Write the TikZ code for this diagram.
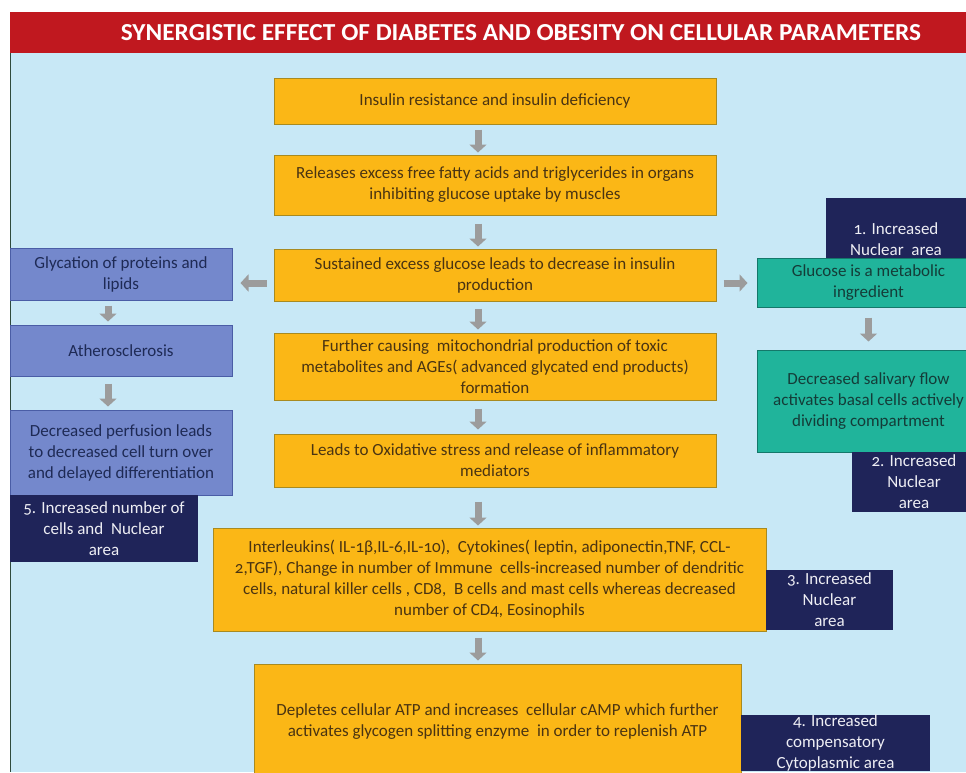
\documentclass[tikz,border=0pt]{standalone}
\usepackage{fontspec}
\setmainfont{Carlito}[Numbers=OldStyle]
\usetikzlibrary{arrows.meta,calc}
\definecolor{bgblue}{HTML}{C8E8F6}
\definecolor{titlered}{HTML}{C0181F}
\definecolor{orng}{HTML}{FBB716}
\definecolor{obord}{HTML}{A88A20}
\definecolor{otext}{HTML}{4A3412}
\definecolor{lblue}{HTML}{7488CC}
\definecolor{lbord}{HTML}{4A5DA6}
\definecolor{ltext}{HTML}{1E2A55}
\definecolor{teal1}{HTML}{20B49B}
\definecolor{tbord}{HTML}{14786A}
\definecolor{ttext}{HTML}{143C38}
\definecolor{navy}{HTML}{1F2459}
\definecolor{ntext}{HTML}{EEEEF4}
\definecolor{agrey}{HTML}{9C9C9C}
\definecolor{edgeline}{HTML}{2F4A3C}
\begin{document}
\begin{tikzpicture}[x=1pt,y=-1pt,
 box/.style={rectangle, line width=1pt, align=center, inner sep=0pt, font=\fontsize{17}{21}\selectfont},
 obox/.style={box, draw=obord, fill=orng, text=otext},
 bbox/.style={box, draw=lbord, fill=lblue, text=ltext},
 tbox/.style={box, draw=tbord, fill=teal1, text=ttext},
 nbox/.style={box, fill=navy, text=ntext},
 barrow/.style={draw=agrey, line width=7pt, -{Triangle[width=17pt,length=8pt]}}]
\useasboundingbox (0,0) rectangle (966,772);
\clip (0,0) rectangle (966,772);
\fill[white] (0,0) rectangle (966,772);
\fill[bgblue] (10,53) rectangle (966,772);
\draw[edgeline, line width=1pt] (10.5,53) -- (10.5,772);
\fill[titlered] (10,12) rectangle (966,53);
\node[text=white, inner sep=0pt] (title) at (521,32.5)
  {\resizebox{800pt}{16pt}{\bfseries SYNERGISTIC EFFECT OF DIABETES AND OBESITY ON CELLULAR PARAMETERS}};
\coordinate (axis) at (478,0);

% central column
\node[obox, minimum width=442pt, minimum height=46pt] (b1) at (495,101)
  {Insulin resistance and insulin deficiency};
\node[obox, minimum width=442pt, minimum height=60pt] (b2) at (495,185)
  {Releases excess free fatty acids and triglycerides in organs\\ inhibiting glucose uptake by muscles};
\node[obox, minimum width=442pt, minimum height=52pt] (b3) at (495,275)
  {Sustained excess glucose leads to decrease in insulin\\ production};
\node[obox, minimum width=442pt, minimum height=67pt] (b4) at (495,366.5)
  {Further causing \ mitochondrial production of toxic\\ metabolites and AGEs( advanced glycated end products)\\ formation};
\node[obox, minimum width=442pt, minimum height=53pt] (b5) at (495,460.5)
  {Leads to Oxidative stress and release of inflammatory\\ mediators};
\node[obox, minimum width=553pt, minimum height=103pt] (b6) at (489.5,579.5)
  {Interleukins( IL-1β,IL-6,IL-10), \ Cytokines( leptin, adiponectin,TNF, CCL-\\ 2,TGF), Change in number of Immune \ cells-increased number of dendritic\\ cells, natural killer cells , CD8, \ B cells and mast cells whereas decreased\\ number of CD4, Eosinophils};
\node[obox, minimum width=487pt, minimum height=116pt] (b7) at (497.5,722)
  {Depletes cellular ATP and increases \ cellular cAMP which further\\ activates glycogen splitting enzyme \ in order to replenish ATP};

% left column
\node[bbox, minimum width=222pt, minimum height=52pt] (G) at (121,274)
  {Glycation of proteins and\\ lipids};
\node[bbox, minimum width=222pt, minimum height=51pt] (A) at (121,350.5)
  {Atherosclerosis};
\node[bbox, minimum width=222pt, minimum height=85pt] (D) at (121,452.5)
  {Decreased perfusion leads\\ to decreased cell turn over\\ and delayed differentiation};
\node[nbox, minimum width=188pt, minimum height=67pt] (N5) at (104,528.5)
  {5. Increased number of\\ cells and \ Nuclear\\ area};

% right column
\node[nbox, minimum width=140pt, minimum height=82pt] (N1) at (896,239)
  {1. Increased\\ Nuclear \ area};
\node[tbox, minimum width=223pt, minimum height=49pt] (Glu) at (868.5,282.5)
  {Glucose is a metabolic\\ ingredient};
\node[tbox, minimum width=223pt, minimum height=102pt] (Sal) at (868.5,401)
  {Decreased salivary flow\\ activates basal cells actively\\ dividing compartment};
\node[nbox, minimum width=124pt, minimum height=60pt] (N2) at (914,482)
  {2. Increased\\ Nuclear\\ area};
\node[nbox, minimum width=127pt, minimum height=60pt] (N3) at (829.5,600)
  {3. Increased\\ Nuclear\\ area};
\node[nbox, minimum width=189pt, minimum height=56pt] (N4) at (835.5,743)
  {4. Increased\\ compensatory\\ Cytoplasmic area};

% arrows
\draw[barrow] ($(b1.south -| axis)+(0,5)$) -- ($(b2.north -| axis)+(0,-2)$);
\draw[barrow] ($(b2.south -| axis)+(0,8)$) -- ($(b3.north -| axis)+(0,-2)$);
\draw[barrow] ($(b3.south -| axis)+(0,7)$) -- ($(b4.north -| axis)+(0,-3)$);
\draw[barrow] ($(b4.south -| axis)+(0,8)$) -- ($(b5.north -| axis)+(0,-4)$);
\draw[barrow] ($(b5.south -| axis)+(0,14)$) -- ($(b6.north -| axis)+(0,-2)$);
\draw[barrow] ($(b6.south -| axis)+(0,6)$) -- ($(b7.north -| axis)+(0,-3)$);
\draw[barrow] ($(b3.west)+(-7,8)$) -- ($(G.east)+(8,9)$);
\draw[barrow] ($(b3.east)+(7,8)$) -- ($(Glu.west)+(-9,0.5)$);
\draw[barrow] ($(Glu.south)+(0,10)$) -- ($(Sal.north)+(0,-8)$);
\draw[barrow] ($(G.south)+(-13,5)$) -- ($(A.north)+(-13,-3)$);
\draw[barrow] ($(A.south)+(-13,7)$) -- ($(D.north)+(-13,-3)$);
\end{tikzpicture}
\end{document}
